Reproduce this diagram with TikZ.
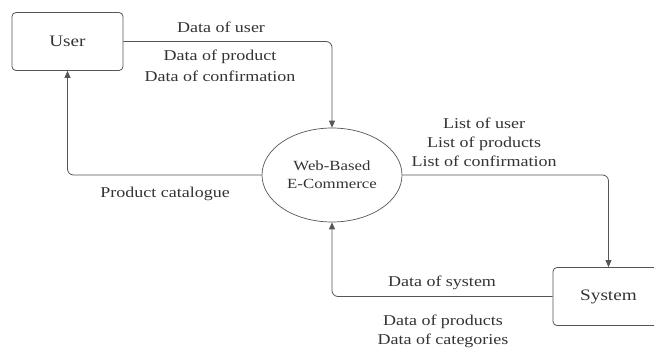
\documentclass[tikz,border=0pt]{standalone}
\usepackage{fontspec}
\setmainfont[FakeStretch=1.2]{Liberation Serif}
\usetikzlibrary{arrows.meta,shapes.geometric}
\definecolor{ln}{HTML}{555555}
\definecolor{tx}{HTML}{333333}
\begin{document}
\begin{tikzpicture}[x=1pt,y=-1pt,
  every node/.style={text=tx,font=\fontsize{15}{19}\selectfont},
  ent/.style={draw=ln,rounded corners=4pt,line width=0.8pt,minimum width=111pt,minimum height=58pt,font=\fontsize{16}{19}\selectfont},
  proc/.style={draw=ln,ellipse,line width=0.7pt,minimum width=140pt,minimum height=94pt,align=center,inner sep=0pt,font=\fontsize{14}{18}\selectfont},
  flow/.style={draw=ln,line width=0.8pt,rounded corners=6pt,-{Triangle[length=7pt,width=6pt]}},
  lbl/.style={align=center,inner sep=0pt}]
\useasboundingbox (0,0) rectangle (654,351);
\node[ent] (user) at (67.5,41.5) {User};
\node[ent] (sys) at (608.5,296.5) {System};
\node[proc] (wb) at (332,175) {Web-Based\\E-Commerce};
\draw[flow] (user.east) -| (wb.north);
\draw[flow] (wb.west) -| (user.south);
\draw[flow] (wb.east) -| (sys.north);
\draw[flow] (sys.west) -| (wb.south);
\node[lbl] (l1) at (221,27) {Data of user};
\node[lbl,font=\fontsize{15}{20.5}\selectfont] (l2) at (220,66) {Data of product\\Data of confirmation};
\node[lbl] (l3) at (165,194) {Product catalogue};
\node[lbl] (l4) at (484,142) {List of user\\List of products\\List of confirmation};
\node[lbl] (l5) at (442,283) {Data of system};
\node[lbl] (l6) at (443,331) {Data of products\\Data of categories};
\end{tikzpicture}
\end{document}
